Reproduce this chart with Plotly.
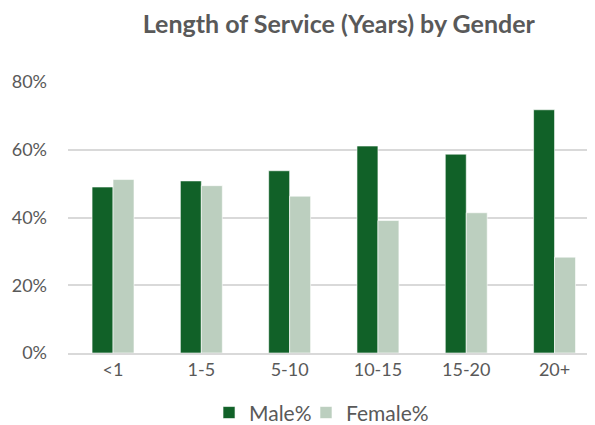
import plotly.graph_objects as go

categories = ["<1", "1-5", "5-10", "10-15", "15-20", "20+"]
male_pct = [0.490, 0.508, 0.538, 0.611, 0.587, 0.718]
female_pct = [0.512, 0.494, 0.463, 0.391, 0.414, 0.283]
y_ticks = [0, 0.2, 0.4, 0.6, 0.8]
y_tick_labels = ["0%", "20%", "40%", "60%", "80%"]

FONT = "Lato, Calibri, 'Open Sans', sans-serif"
GREY = "#595959"

fig = go.Figure()
fig.add_trace(go.Bar(x=categories, y=male_pct, name="Male%", legend="legend",
                     marker=dict(color="#116128", line=dict(color="white", width=0.6))))
fig.add_trace(go.Bar(x=categories, y=female_pct, name="Female%", legend="legend2",
                     marker=dict(color="#bccfbf", line=dict(color="white", width=0.6))))

leg_common = dict(orientation="h", xanchor="left", y=-0.221, yanchor="middle",
                  font=dict(family=FONT, size=21, color=GREY), itemwidth=30,
                  bgcolor="rgba(0,0,0,0)")

fig.update_layout(
    width=595, height=425,
    paper_bgcolor="white", plot_bgcolor="white",
    margin=dict(l=60, r=8, t=74, b=80, autoexpand=False),
    barmode="group", bargap=0.525, bargroupgap=0,
    title=dict(text="<b>Length of Service (Years) by Gender</b>",
               x=0.556, xanchor="center", y=0.962, yanchor="middle",
               font=dict(family=FONT, size=25, color=GREY)),
    font=dict(family=FONT, size=18, color=GREY),
    showlegend=True,
    legend=dict(x=0.2676, **leg_common),
    legend2=dict(x=0.4516, **leg_common),
    xaxis=dict(range=[-0.51, 5.458], showgrid=False, showline=True, automargin=False,
               linecolor="#d9d9d9", linewidth=1.5, ticks="", tickfont=dict(size=18, color=GREY)),
    yaxis=dict(range=[0, 0.8], tickvals=y_ticks, ticktext=y_tick_labels, automargin=False,
               showgrid=True, gridcolor="#d9d9d9", gridwidth=1.5, zeroline=False,
               showline=False, ticks="", ticklabelstandoff=20,
               tickfont=dict(size=18, color=GREY)),
)

fig.write_html("out.html")
